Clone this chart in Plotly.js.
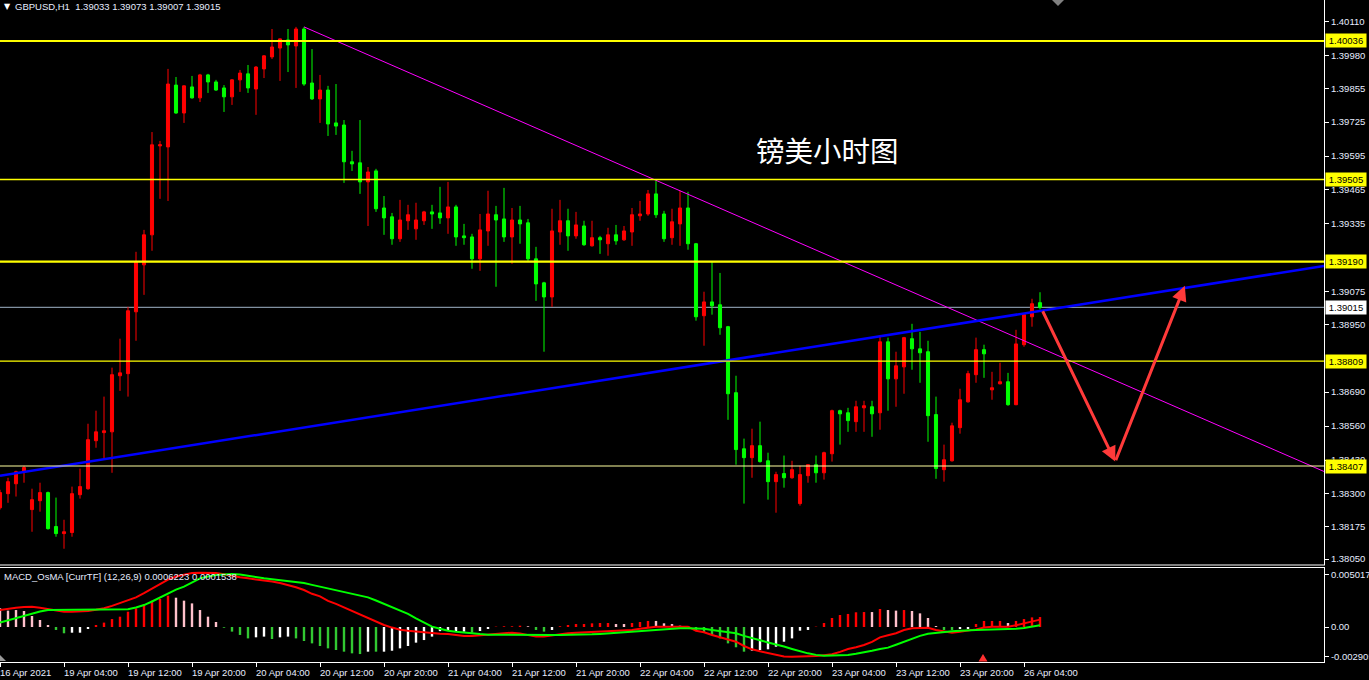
<!DOCTYPE html>
<html><head><meta charset="utf-8">
<script src="https://cdn.plot.ly/plotly-3.0.1.min.js"></script>
<style>html,body{margin:0;padding:0;background:#000;overflow:hidden}#chart{width:1369px;height:680px}</style>
</head><body><div id="chart"></div>
<script>
// ---------------- DATA ----------------
const symbolTitle = "GBPUSD,H1  1.39033 1.39073 1.39007 1.39015";
const chartNote = "镑美小时图";
const macdTitle = "MACD_OsMA [CurrTF] (12,26,9) 0.0006223 0.0001538";

const openP = [1.38247,1.38301,1.38339,1.38385,1.38240,1.38274,1.38305,1.38175,1.38148,1.38152,
1.38297,1.38320,1.38504,1.38535,1.38538,1.38753,1.38761,1.38998,1.39178,1.39293,
1.39634,1.39630,1.39867,1.39760,1.39860,1.39818,1.39906,1.39879,1.39856,1.39822,
1.39887,1.39910,1.39852,1.39929,1.39975,1.40009,1.40040,1.40017,1.40082,1.39875,
1.39814,1.39848,1.39722,1.39714,1.39573,1.39569,1.39496,1.39538,1.39396,1.39362,
1.39278,1.39347,1.39316,1.39347,1.39381,1.39377,1.39358,1.39400,1.39289,1.39285,
1.39201,1.39308,1.39370,1.39354,1.39285,1.39350,1.39339,1.39201,1.39109,1.39055,
1.39304,1.39347,1.39289,1.39327,1.39251,1.39282,1.39259,1.39293,1.39274,1.39304,
1.39366,1.39373,1.39450,1.39373,1.39282,1.39335,1.39396,1.39259,1.38983,1.39036,
1.39025,1.38941,1.38688,1.38473,1.38439,1.38485,1.38427,1.38347,1.38378,1.38362,
1.38263,1.38370,1.38412,1.38381,1.38454,1.38619,1.38611,1.38577,1.38630,1.38634,
1.38611,1.38883,1.38741,1.38787,1.38895,1.38856,1.38845,1.38604,1.38393,1.38427,
1.38554,1.38653,1.38757,1.38853,1.38699,1.38722,1.38730,1.38642,1.38872,1.38979,
1.39033];
const highP = [1.38316,1.38362,1.38389,1.38408,1.38320,1.38343,1.38309,1.38286,1.38201,1.38328,
1.38397,1.38569,1.38619,1.38673,1.38784,1.38895,1.39017,1.39228,1.39312,1.39687,
1.39653,1.39929,1.39898,1.39866,1.39902,1.39910,1.39910,1.39887,1.39867,1.39890,
1.39925,1.39944,1.39940,1.39982,1.40082,1.40046,1.40082,1.40090,1.40090,1.40005,
1.39906,1.39864,1.39871,1.39733,1.39615,1.39733,1.39553,1.39546,1.39442,1.39377,
1.39427,1.39408,1.39416,1.39385,1.39408,1.39477,1.39496,1.39408,1.39335,1.39297,
1.39373,1.39462,1.39404,1.39473,1.39396,1.39404,1.39354,1.39247,1.39113,1.39393,
1.39427,1.39393,1.39381,1.39347,1.39347,1.39289,1.39320,1.39331,1.39327,1.39396,
1.39423,1.39465,1.39500,1.39385,1.39393,1.39462,1.39458,1.39262,1.39075,1.39190,
1.39147,1.38944,1.38753,1.38512,1.38550,1.38577,1.38458,1.38385,1.38447,1.38427,
1.38408,1.38412,1.38447,1.38462,1.38623,1.38623,1.38630,1.38657,1.38657,1.38657,
1.38906,1.38899,1.38845,1.38902,1.38952,1.38921,1.38887,1.38673,1.38489,1.38573,
1.38703,1.38772,1.38899,1.38872,1.38768,1.38803,1.38764,1.38929,1.38990,1.39048,
1.39073];
const lowP = [1.38240,1.38266,1.38290,1.38343,1.38155,1.38232,1.38163,1.38136,1.38090,1.38136,
1.38282,1.38316,1.38477,1.38435,1.38381,1.38695,1.38673,1.38887,1.39063,1.39232,
1.39431,1.39423,1.39757,1.39722,1.39815,1.39802,1.39837,1.39845,1.39764,1.39791,
1.39841,1.39837,1.39753,1.39894,1.39967,1.39883,1.39917,1.39856,1.39864,1.39810,
1.39722,1.39672,1.39676,1.39492,1.39538,1.39450,1.39327,1.39381,1.39293,1.39255,
1.39266,1.39312,1.39274,1.39331,1.39316,1.39335,1.39297,1.39251,1.39255,1.39163,
1.39155,1.39251,1.39094,1.39266,1.39182,1.39259,1.39193,1.39040,1.38845,1.39017,
1.39255,1.39232,1.39278,1.39251,1.39248,1.39220,1.39213,1.39255,1.39270,1.39251,
1.39347,1.39366,1.39358,1.39266,1.39255,1.39251,1.39236,1.38964,1.38868,1.38987,
1.38910,1.38584,1.38412,1.38263,1.38362,1.38420,1.38278,1.38228,1.38324,1.38358,
1.38255,1.38343,1.38343,1.38355,1.38424,1.38489,1.38538,1.38538,1.38538,1.38519,
1.38546,1.38619,1.38634,1.38684,1.38776,1.38726,1.38500,1.38358,1.38347,1.38424,
1.38531,1.38650,1.38726,1.38745,1.38661,1.38720,1.38638,1.38640,1.38864,1.38941,
1.39007];
const closeP = [1.38305,1.38347,1.38385,1.38401,1.38278,1.38305,1.38167,1.38148,1.38155,1.38301,
1.38328,1.38508,1.38538,1.38542,1.38757,1.38764,1.39002,1.39190,1.39293,1.39638,
1.39638,1.39871,1.39760,1.39864,1.39818,1.39906,1.39879,1.39848,1.39822,1.39887,
1.39913,1.39856,1.39936,1.39979,1.40013,1.40044,1.40021,1.40082,1.39871,1.39814,
1.39848,1.39718,1.39710,1.39573,1.39565,1.39496,1.39534,1.39393,1.39358,1.39278,
1.39350,1.39370,1.39350,1.39381,1.39373,1.39358,1.39400,1.39285,1.39282,1.39201,
1.39312,1.39373,1.39350,1.39285,1.39350,1.39335,1.39201,1.39105,1.39055,1.39308,
1.39347,1.39289,1.39331,1.39255,1.39282,1.39274,1.39293,1.39270,1.39308,1.39370,
1.39373,1.39450,1.39370,1.39278,1.39343,1.39396,1.39259,1.38979,1.39036,1.39021,
1.38937,1.38684,1.38470,1.38439,1.38485,1.38424,1.38347,1.38374,1.38362,1.38393,
1.38374,1.38412,1.38381,1.38458,1.38619,1.38607,1.38581,1.38634,1.38638,1.38607,
1.38883,1.38741,1.38791,1.38899,1.38856,1.38841,1.38600,1.38397,1.38431,1.38561,
1.38661,1.38761,1.38853,1.38837,1.38707,1.38730,1.38642,1.38875,1.38987,1.39029,
1.39015];

// OsMA histogram and MACD lines, in units of 0.0001
const osmaE4 = [15.7,13.8,14.3,13.5,9.3,5.9,1.7,-2.5,-5.3,-4.8,
-4.8,-1.7,1.7,3.7,6.7,8.7,12.9,15.7,19.1,22.2,
23.6,26.4,24.7,22.2,19.9,14.3,8.7,4.2,-0.6,-3.9,
-6.7,-9.6,-8.7,-8.1,-10.1,-8.7,-8.1,-9.6,-11.8,-13.8,
-16.0,-18.0,-19.4,-20.8,-22.2,-22.8,-20.8,-20.8,-20.8,-20.0,
-18.0,-16.0,-13.2,-11.0,-8.1,-3.5,-3.1,-3.9,-3.9,-4.8,
-3.4,-1.7,0.3,0.6,0.6,1.1,0.6,-2.5,-3.9,-2.5,
0.6,1.7,2.5,2.5,3.1,3.4,3.4,2.5,2.5,3.4,
4.2,5.1,5.1,3.1,2.5,1.1,0.6,-2.5,-4.8,-6.7,
-9.6,-13.8,-17.1,-20.8,-19.9,-19.4,-18.8,-16.6,-12.4,-9.6,
-3.1,-2.5,0.3,3.4,7.6,10.1,11.0,12.4,12.6,12.6,
15.2,14.3,13.8,14.3,13.5,11.5,7.6,0.8,-2.5,-2.5,
-1.7,-1.7,2.5,5.1,5.1,5.1,3.4,5.1,6.7,8.1,
8.4];
// R = rising above zero, P = falling above zero, G = falling below zero, W = rising below zero
const osmaCodes = "PPPPPPPGGWWWRRRRRRRRRRPPPPPPGGGGWWGWWGGGGGGGGGWGWWWWWWWWWWWGWWRRRRPGGWRRRRRRRPPRRRPPPPPGGGGGGGWWWWWWWWRRRRRRRPRPPRPPPPGGWWRRRRPRRRR";
const macdE4 = [14.3,15.5,16.3,16.8,17.1,16.2,14.9,13.8,12.9,12.9,
12.9,13.5,14.5,15.8,17.8,20.0,22.3,25.0,28.5,32.2,
36.5,40.0,42.5,44.2,45.5,45.8,45.8,45.5,44.5,43.0,
42.0,41.0,40.2,39.3,38.3,37.0,35.3,33.5,31.2,28.0,
25.8,22.0,19.5,16.5,13.0,10.0,7.0,4.0,1.7,-0.5,
-2.3,-3.2,-3.9,-4.6,-5.2,-5.6,-5.9,-7.0,-7.6,-7.6,
-7.0,-6.7,-6.0,-5.3,-4.8,-5.5,-6.8,-8.1,-8.1,-7.0,
-6.0,-5.3,-4.8,-4.4,-4.1,-3.9,-3.5,-3.2,-2.9,-2.5,
-1.4,-0.3,0.2,0.3,0.3,0.3,0.3,-3.1,-4.5,-6.7,
-8.5,-10.5,-12.4,-16.0,-18.8,-20.5,-22.0,-23.5,-24.8,-25.0,
-25.0,-25.0,-24.5,-23.8,-23.0,-21.0,-18.5,-17.0,-15.2,-12.5,
-8.7,-7.0,-5.3,-2.5,-1.1,-0.8,-0.6,-2.5,-3.8,-4.8,
-4.0,-3.1,-2.0,-0.5,0.3,0.3,0.3,1.5,3.1,4.5,
6.2];
const signalE4 = [3.7,5.5,7.3,9.4,11.5,13.0,14.3,14.3,14.3,14.3,
14.3,14.3,14.3,14.4,14.5,14.7,14.9,16.5,18.5,21.5,
25.0,28.0,31.5,34.0,37.5,41.0,42.5,43.8,44.3,44.7,
44.2,43.0,42.0,41.0,40.3,39.5,38.8,38.2,37.0,35.5,
34.0,32.6,31.0,29.2,27.5,26.3,25.0,22.3,19.5,17.0,
14.3,11.0,7.3,4.0,0.3,-1.5,-3.1,-4.0,-4.8,-5.4,
-6.0,-6.5,-6.6,-6.7,-6.7,-6.7,-6.7,-6.7,-6.7,-6.7,
-6.7,-6.7,-6.7,-6.7,-6.2,-5.8,-5.3,-5.0,-4.8,-4.0,
-3.3,-2.8,-2.4,-2.0,-1.5,-1.1,-1.1,-1.1,-1.5,-2.5,
-3.5,-4.4,-5.3,-7.5,-9.6,-11.2,-13.0,-14.5,-16.5,-18.5,
-20.5,-22.2,-23.5,-24.2,-24.0,-23.8,-23.6,-22.6,-21.6,-20.0,
-18.5,-17.4,-15.0,-12.4,-10.0,-7.5,-5.7,-4.8,-3.9,-3.5,
-3.1,-2.6,-2.5,-2.3,-2.1,-2.0,-2.0,-1.4,-0.8,0.2,
1.5];

const timeLabels = ["16 Apr 2021","19 Apr 04:00","19 Apr 12:00","19 Apr 20:00","20 Apr 04:00","20 Apr 12:00",
"20 Apr 20:00","21 Apr 04:00","21 Apr 12:00","21 Apr 20:00","22 Apr 04:00","22 Apr 12:00","22 Apr 20:00",
"23 Apr 04:00","23 Apr 12:00","23 Apr 20:00","26 Apr 04:00"];
const timeLabelBars = [0,8,16,24,32,40,48,56,64,72,80,88,96,104,112,120,128];
const priceTicks = [1.40110,1.39980,1.39855,1.39725,1.39595,1.39465,1.39335,1.39075,1.38950,
1.38690,1.38560,1.38430,1.38300,1.38175,1.38050];
const levelPrices = [1.40036,1.39505,1.39190,1.38809,1.38407];
const currentPrice = 1.39015;
const macdAxisLabels = ["0.0050179","0.00","-0.002905"];
const macdAxisValues = [0.00440,0,-0.00252];
// drawn objects (anchor points: bar index, price)
const resistBars = [38,165.5], resistPrices = [1.40090,1.38386];
const supportBars = [0,165.5], supportPrices = [1.38370,1.39174];
const forecastBars = [130.25,139.4,148.1], forecastPrices = [1.39006,1.38424,1.39098];

// ---------------- LAYOUT HELPERS ----------------
const W = 1369, H = 680;
const PLOT_R = 1324;
const px = x => x / W;
const py = y => 1 - y / H;
const bars = openP.map((_, i) => i);
const colorMap = {R:'#ff0000', P:'#ffc0cb', G:'#32c832', W:'#ffffff'};
const axisFont = {family:'Liberation Sans, Arial, sans-serif', size:9.5, color:'#e6ecff'};

const traces = [
  {type:'candlestick', x:bars, open:openP, high:highP, low:lowP, close:closeP,
   xaxis:'x', yaxis:'y', whiskerwidth:0, hoverinfo:'skip',
   increasing:{line:{color:'#ff0000', width:1}, fillcolor:'#ff0000'},
   decreasing:{line:{color:'#00ff00', width:1}, fillcolor:'#00ff00'}},
  {type:'scatter', mode:'lines', x:resistBars, y:resistPrices, xaxis:'x', yaxis:'y',
   line:{color:'#ff00ff', width:1}, hoverinfo:'skip'},
  {type:'scatter', mode:'lines', x:supportBars, y:supportPrices, xaxis:'x', yaxis:'y',
   line:{color:'#0000ff', width:2.5}, hoverinfo:'skip'},
  {type:'bar', x:bars, y:osmaE4.map(v => v * 1e-4), xaxis:'x2', yaxis:'y2', width:0.3,
   marker:{color:osmaCodes.split('').map(c => colorMap[c]), line:{width:0}}, hoverinfo:'skip'},
  {type:'scatter', mode:'lines', x:bars, y:macdE4.map(v => v * 1e-4), xaxis:'x2', yaxis:'y2',
   line:{color:'#ff0000', width:2}, hoverinfo:'skip'},
  {type:'scatter', mode:'lines', x:bars, y:signalE4.map(v => v * 1e-4), xaxis:'x2', yaxis:'y2',
   line:{color:'#00ff00', width:2}, hoverinfo:'skip'}
];

const levelStyle = [
  {color:'#ffff00', width:2.2}, {color:'#ffff00', width:1.4}, {color:'#ffff00', width:2.2},
  {color:'#ffff00', width:1.4}, {color:'#ffffa0', width:1.2}
];
const shapes = [];
levelPrices.forEach((p, i) => shapes.push({type:'line', xref:'paper', yref:'y', x0:0, x1:px(PLOT_R),
  y0:p, y1:p, line:levelStyle[i], layer:'above'}));
shapes.push({type:'line', xref:'paper', yref:'y', x0:0, x1:px(PLOT_R), y0:currentPrice, y1:currentPrice,
  line:{color:'#8090a0', width:1.2}, layer:'below'});
// panel separators
[565, 567.5].forEach(y => shapes.push({type:'line', xref:'paper', yref:'paper', x0:0, x1:px(PLOT_R + 1),
  y0:py(y), y1:py(y), line:{color:'#ffffff', width:1}}));
// small markers
shapes.push({type:'path', xref:'paper', yref:'paper', fillcolor:'#808080', line:{width:0},
  path:`M ${px(1052)} ${py(0)} L ${px(1064)} ${py(0)} L ${px(1058)} ${py(6)} Z`});
shapes.push({type:'path', xref:'paper', yref:'paper', fillcolor:'#9a9a9a', line:{width:0},
  path:`M ${px(0)} ${py(655)} L ${px(0)} ${py(661)} L ${px(6)} ${py(661)} Z`});
shapes.push({type:'path', xref:'paper', yref:'paper', fillcolor:'#ff3030', line:{width:0},
  path:`M ${px(978.5)} ${py(661.5)} L ${px(987.5)} ${py(661.5)} L ${px(983)} ${py(654)} Z`});

const annotations = [];
annotations.push({xref:'paper', yref:'paper', x:px(2), y:py(7), xanchor:'left', yanchor:'middle',
  text:'▼', showarrow:false, font:{family:'DejaVu Sans', size:8, color:'#ffffff'}});
annotations.push({xref:'paper', yref:'paper', x:px(13), y:py(7), xanchor:'left', yanchor:'middle',
  text:symbolTitle.replace(/ /g,'&nbsp;'), showarrow:false, font:axisFont});
annotations.push({xref:'paper', yref:'paper', x:px(827), y:py(149), xanchor:'center', yanchor:'middle',
  text:chartNote, showarrow:false, font:{family:'Noto Sans CJK SC', size:28.5, color:'#ffffff'}});
annotations.push({xref:'paper', yref:'paper', x:px(2), y:py(576), xanchor:'left', yanchor:'middle',
  text:macdTitle, showarrow:false, font:axisFont});
// highlighted price labels
levelPrices.forEach(p => annotations.push({xref:'paper', yref:'y', x:px(1325), y:p, xanchor:'left', yanchor:'middle',
  text:p.toFixed(5), showarrow:false, bgcolor:'#ffff00', borderpad:1, width:38,
  font:{family:axisFont.family, size:9.5, color:'#000000'}}));
annotations.push({xref:'paper', yref:'y', x:px(1325), y:currentPrice, xanchor:'left', yanchor:'middle',
  text:currentPrice.toFixed(5), showarrow:false, bgcolor:'#ffffff', borderpad:1, width:38,
  font:{family:axisFont.family, size:9.5, color:'#000000'}});
// time labels
timeLabels.forEach((t, i) => annotations.push({xref:'x2', yref:'paper', x:timeLabelBars[i], y:py(672),
  xanchor:'left', yanchor:'middle', xshift:-2, text:t, showarrow:false, font:axisFont}));
// forecast arrows
for (let k = 1; k < forecastBars.length; k++) {
  annotations.push({xref:'x', yref:'y', axref:'x', ayref:'y', x:forecastBars[k], y:forecastPrices[k],
    ax:forecastBars[k-1], ay:forecastPrices[k-1], showarrow:true, arrowhead:2, arrowsize:1,
    arrowwidth:3, arrowcolor:'#ff3a3a', text:''});
}

const layout = {
  width:W, height:H, margin:{l:0, r:0, t:0, b:0}, paper_bgcolor:'#000000', plot_bgcolor:'#000000',
  showlegend:false, font:axisFont, boxgap:0.45,
  xaxis:{domain:[0, px(PLOT_R)], range:[0, PLOT_R / 8], anchor:'y', showgrid:false, zeroline:false,
    showticklabels:false, ticks:'', rangeslider:{visible:false}, fixedrange:true},
  yaxis:{domain:[py(565), 1], range:[1.380276, 1.401931], anchor:'x', side:'right', showgrid:false,
    zeroline:false, showline:true, linecolor:'#ffffff', linewidth:1, ticks:'outside', ticklen:4,
    tickcolor:'#ffffff', tickvals:priceTicks, ticktext:priceTicks.map(v => v.toFixed(5)), tickfont:axisFont},
  xaxis2:{domain:[0, px(PLOT_R)], range:[0, PLOT_R / 8], anchor:'y2', showgrid:false, zeroline:false,
    showline:true, linecolor:'#ffffff', linewidth:1, ticks:'outside', ticklen:4, tickcolor:'#ffffff',
    tickvals:timeLabelBars, showticklabels:false, fixedrange:true},
  yaxis2:{domain:[py(662), py(568)], range:[-0.00295, 0.004973], anchor:'x2', side:'right', showgrid:false,
    zeroline:false, showline:true, linecolor:'#ffffff', linewidth:1, ticks:'outside', ticklen:4,
    tickcolor:'#ffffff', tickvals:macdAxisValues, ticktext:macdAxisLabels, tickfont:axisFont},
  shapes:shapes, annotations:annotations
};
Plotly.newPlot('chart', traces, layout, {staticPlot:true, displayModeBar:false});
</script></body></html>
